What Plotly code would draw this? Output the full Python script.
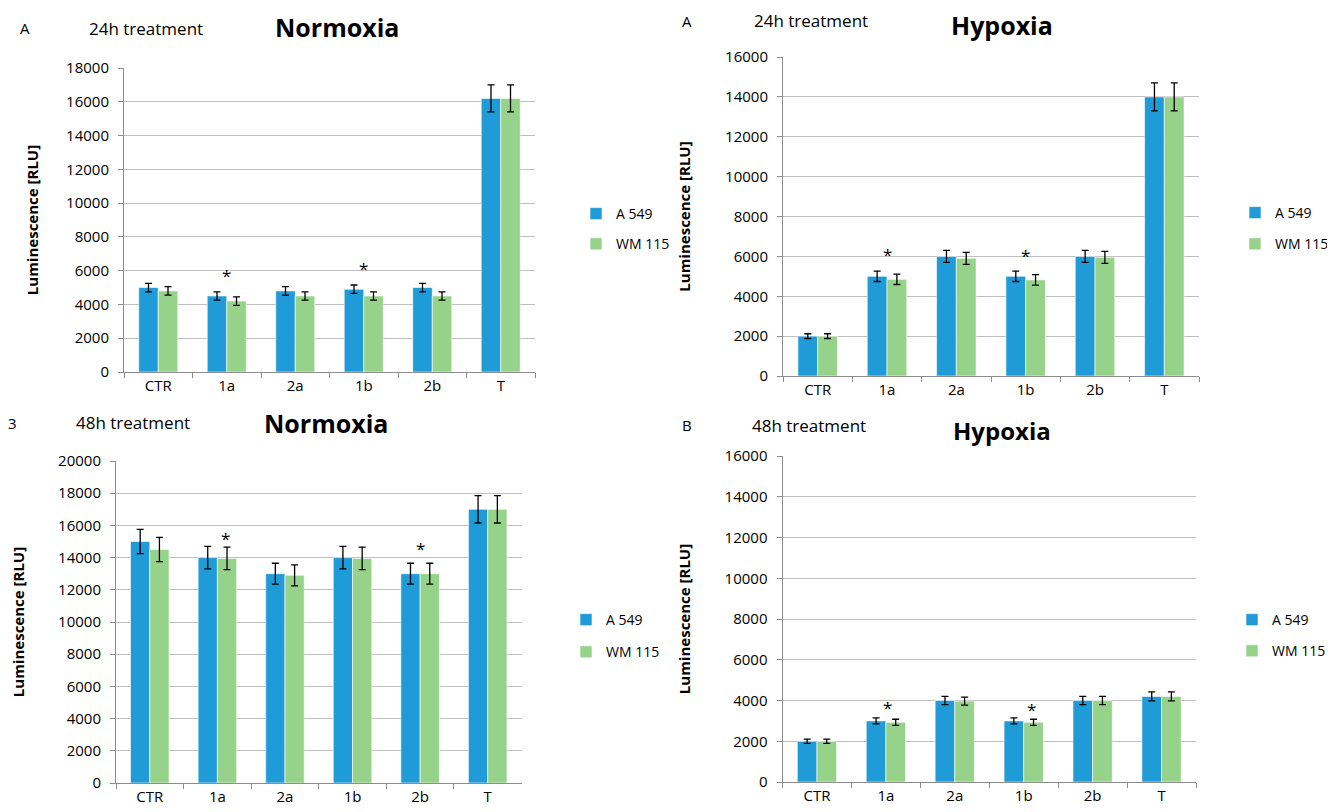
import plotly.graph_objects as go

categories = ["CTR", "1a", "2a", "1b", "2b", "T"]
series_names = ["A 549", "WM 115"]

# 24h Normoxia
n24_a549 = [5000, 4500, 4800, 4900, 5000, 16200]
n24_wm115 = [4800, 4200, 4500, 4500, 4500, 16200]
n24_a549_err = [250, 250, 250, 250, 250, 800]
n24_wm115_err = [250, 250, 250, 250, 250, 800]
n24_star_cat = ["1a", "1b"]
n24_star_y = [5900, 6300]

# 24h Hypoxia
h24_a549 = [2000, 5000, 6000, 5000, 6000, 14000]
h24_wm115 = [2000, 4850, 5900, 4820, 5950, 14000]
h24_a549_err = [120, 260, 300, 260, 300, 700]
h24_wm115_err = [120, 260, 300, 260, 300, 700]
h24_star_cat = ["1a", "1b"]
h24_star_y = [6250, 6170]

# 48h Normoxia
n48_a549 = [15000, 14000, 13000, 14000, 13000, 17000]
n48_wm115 = [14500, 13950, 12900, 13950, 13000, 17000]
n48_a549_err = [750, 700, 650, 700, 650, 850]
n48_wm115_err = [750, 700, 650, 700, 650, 850]
n48_star_cat = ["1a", "2b"]
n48_star_y = [15380, 14760]

# 48h Hypoxia
h48_a549 = [2000, 3000, 4000, 3000, 4000, 4200]
h48_wm115 = [2000, 2930, 3970, 2930, 4000, 4200]
h48_a549_err = [100, 150, 200, 150, 200, 220]
h48_wm115_err = [100, 150, 200, 150, 200, 220]
h48_star_cat = ["1a", "1b"]
h48_star_y = [3820, 3690]

# page body has an 8px margin; size the figure to fill the viewport
OFF = 8
W, H = 1335 - OFF, 812 - OFF
BLUE = "#1f9bd7"
GREEN = "#97d28b"
FONT = "Open Sans"

def px(x):
    return (x - OFF) / W

def py(y):
    return 1 - (y - OFF) / H

def xd(a, b):
    return [px(a), px(b)]

def yd(top, bottom):
    return [py(bottom), py(top)]

panels = [
    dict(a=n24_a549, b=n24_wm115, ea=n24_a549_err, eb=n24_wm115_err,
         sc=n24_star_cat, sy=n24_star_y, sx=[0, 0], ymax=18000,
         dx=xd(124, 535), dy=yd(68, 372), leg=(576, 198), gap=9, so=23),
    dict(a=h24_a549, b=h24_wm115, ea=h24_a549_err, eb=h24_wm115_err,
         sc=h24_star_cat, sy=h24_star_y, sx=[0, 0], ymax=16000,
         dx=xd(783, 1199), dy=yd(57, 376), leg=(1235, 197), gap=10, so=30),
    dict(a=n48_a549, b=n48_wm115, ea=n48_a549_err, eb=n48_wm115_err,
         sc=n48_star_cat, sy=n48_star_y, sx=[8, 0], ymax=20000,
         dx=xd(116, 521.5), dy=yd(461, 783), leg=(566, 604), gap=11, so=31),
    dict(a=h48_a549, b=h48_wm115, ea=h48_a549_err, eb=h48_wm115_err,
         sc=h48_star_cat, sy=h48_star_y, sx=[2, 8], ymax=16000,
         dx=xd(782.5, 1196), dy=yd(456, 782), leg=(1232, 604), gap=10, so=30),
]

fig = go.Figure()
layout = dict(
    width=W, height=H, autosize=False,
    margin=dict(l=0, r=0, t=0, b=0, autoexpand=False),
    paper_bgcolor="white", plot_bgcolor="white",
    barmode="group", bargap=0.43, bargroupgap=0,
    font=dict(family=FONT, size=14, color="black"),
    showlegend=True,
)
annotations = []

for i, p in enumerate(panels):
    k = "" if i == 0 else str(i + 1)
    xa, ya = "x" + k, "y" + k
    legname = "legend" + k
    for name, vals, errs, col in [(series_names[0], p["a"], p["ea"], BLUE),
                                  (series_names[1], p["b"], p["eb"], GREEN)]:
        fig.add_trace(go.Bar(
            x=categories, y=vals, name=name, xaxis=xa, yaxis=ya,
            marker=dict(color=col, line=dict(color="rgba(255,255,255,0.6)", width=1)),
            error_y=dict(type="data", array=errs, visible=True,
                         color="black", thickness=1.3, width=3.5),
            legend=legname, legendgroup=name + k,
        ))
    layout["xaxis" + k] = dict(
        domain=p["dx"], anchor=ya, type="category",
        showline=True, linecolor="#8c8c8c", linewidth=1,
        ticks="outside", tickson="boundaries", ticklen=5, tickcolor="#8c8c8c",
        showgrid=False, tickfont=dict(size=15, family=FONT),
        fixedrange=True, automargin=False,
    )
    layout["yaxis" + k] = dict(
        domain=p["dy"], anchor=xa, range=[0, p["ymax"]], dtick=2000,
        tickformat="d",
        showline=True, linecolor="#8c8c8c", linewidth=1,
        ticks="outside", ticklen=5, tickcolor="#8c8c8c",
        showgrid=True, gridcolor="#bfbfbf", gridwidth=1,
        zeroline=False, tickfont=dict(size=15, family=FONT),
        ticklabelstandoff=6, automargin=False,
        title=dict(text="<b>Luminescence [RLU]</b>", font=dict(size=15, family=FONT), standoff=p["so"]),
        fixedrange=True,
    )
    layout[legname] = dict(
        x=px(p["leg"][0]), y=py(p["leg"][1]), xanchor="left", yanchor="top",
        font=dict(size=14, family=FONT), tracegroupgap=p["gap"],
        bgcolor="rgba(0,0,0,0)", itemwidth=30,
    )
    for c, yv, sx in zip(p["sc"], p["sy"], p["sx"]):
        annotations.append(dict(
            x=c, y=yv, xref=xa, yref=ya, text="*", showarrow=False,
            xshift=sx, yshift=-3, yanchor="middle",
            font=dict(size=17, family=FONT, color="black"),
        ))

# Panel headings (x centre, y centre in page pixels)
heads = [
    ("A", 25, 28, 15, False), ("24h treatment", 146, 28, 17, False), ("Normoxia", 337, 27, 25, True),
    ("A", 687, 21, 15, False), ("24h treatment", 811, 21, 17, False), ("Hypoxia", 1002, 25, 25, True),
    ("3", 12, 423, 15, False), ("48h treatment", 133, 423, 17, False), ("Normoxia", 326, 423, 25, True),
    ("B", 687, 425, 15, False), ("48h treatment", 809, 425, 17, False), ("Hypoxia", 1002, 430, 24, True),
]
for txt, x, y, sz, bold in heads:
    annotations.append(dict(
        x=px(x), y=py(y), xref="paper", yref="paper",
        text=("<b>%s</b>" % txt) if bold else txt, showarrow=False,
        xanchor="center", yanchor="middle",
        font=dict(size=sz, family=FONT, color="black"),
    ))

layout["annotations"] = annotations
fig.update_layout(**layout)
fig.write_html("out.html")
